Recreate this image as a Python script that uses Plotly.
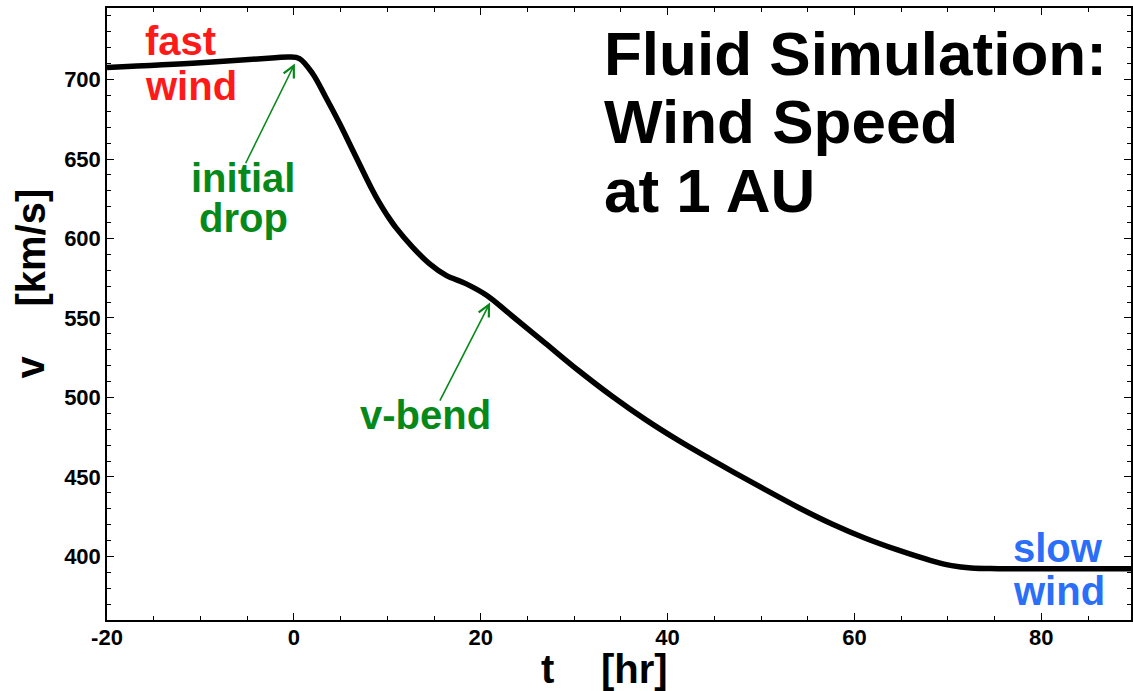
import plotly.graph_objects as go

# ---- data ----
t_hr = [-20, -10, -2, -0.5, 0.6, 2.0, 3.4, 4.9, 6.3, 7.7, 8.4, 9.1, 10.0, 10.9,
        12.7, 14.5, 16.3, 18.4, 20.7, 23.0, 26.9, 30.5, 34.1, 37.6, 41.2, 44.5,
        47.0, 50.4, 54.0, 57.6, 61.1, 64.7, 68.2, 70.4, 72.5, 75.4, 90]
v_kms = [707.5, 710.5, 713.7, 714.2, 713.2, 703.8, 689.0, 672.3, 655.5, 638.7,
         630.5, 623.0, 614.5, 607.0, 594.6, 584.2, 576.8, 571.6, 564.0, 553.0,
         534.2, 516.8, 500.6, 486.2, 472.8, 461.5, 453.2, 442.2, 430.8, 420.4,
         411.6, 403.9, 397.4, 394.2, 392.7, 392.3, 392.3]

x_ticks = [-20, 0, 20, 40, 60, 80]
x_tick_text = ["-20", "0", "20", "40", "60", "80"]
y_ticks = [400, 450, 500, 550, 600, 650, 700]

title_lines = ["Fluid Simulation:", "Wind Speed", "at 1 AU"]

FONT = "Liberation Sans, Arial, Helvetica, sans-serif"
RED = "#ff1a1a"
GREEN = "#07891a"
BLUE = "#2b6ef8"

fig = go.Figure()
fig.add_trace(go.Scatter(
    x=t_hr, y=v_kms, mode="lines",
    line=dict(color="black", width=5.5, shape="spline", smoothing=1.0),
    hoverinfo="skip", showlegend=False))

axis_common = dict(
    showline=True, linecolor="black", linewidth=1.5, mirror="ticks",
    ticks="inside", ticklen=7, tickwidth=1, tickcolor="black",
    showgrid=False, zeroline=False,
    tickfont=dict(family=FONT, size=22, color="black", weight="bold"),
)

fig.update_xaxes(range=[-20, 89.6], tickvals=x_ticks, ticktext=x_tick_text,
                 ticklabelstandoff=-3,
                 minor=dict(dtick=5, ticks="inside", ticklen=4, tickwidth=1,
                            tickcolor="black", showgrid=False),
                 **axis_common)
fig.update_yaxes(range=[360, 745], tickvals=y_ticks,
                 minor=dict(dtick=10, ticks="inside", ticklen=4, tickwidth=1,
                            tickcolor="black", showgrid=False),
                 **axis_common)

def txt(text, x, y, color, size=40, xanchor="center", xref="x", yref="y", angle=0):
    fig.add_annotation(text=text, x=x, y=y, xref=xref, yref=yref,
                       xanchor=xanchor, yanchor="middle", showarrow=False,
                       textangle=angle,
                       font=dict(family=FONT, size=size, color=color, weight="bold"))

# title block
for line, yv in zip(title_lines, [716.2, 673.8, 630.0]):
    txt(line, 32.96, yv, "black", size=62, xanchor="left")

# labels
txt("fast", -16.19, 724.1, RED, xanchor="left")
txt("wind", -16.19, 695.8, RED, xanchor="left")
txt("initial", -5.40, 638.1, GREEN)
txt("drop", -5.40, 612.9, GREEN)
txt("v-bend", 14.05, 489.2, GREEN)
txt("slow", 76.76, 405.2, BLUE, xanchor="left")
txt("wind", 76.76, 377.97, BLUE, xanchor="left")

# arrows
for (hx, hy, tx, ty) in [(0.11, 710.1, -5.24, 646.4), (21.0, 559.7, 15.55, 497.0)]:
    fig.add_annotation(x=hx, y=hy, ax=tx, ay=ty, xref="x", yref="y",
                       axref="x", ayref="y", text="", showarrow=True,
                       arrowhead=5, arrowsize=1.4, arrowwidth=1.6,
                       arrowcolor=GREEN, standoff=0, startstandoff=0)

# axis titles
txt("t", 0.4301, -0.0795, "black", xref="paper", yref="paper")
txt("[hr]", 0.5151, -0.0795, "black", xref="paper", yref="paper")
txt("v", -0.0756, 0.4134, "black", xref="paper", yref="paper", angle=-90)
txt("[km/s]", -0.0741, 0.6087, "black", xref="paper", yref="paper", angle=-90)

fig.update_layout(
    width=1133, height=691, autosize=False,
    margin=dict(l=107, r=0, t=8, b=71),
    paper_bgcolor="white", plot_bgcolor="white",
    showlegend=False,
)

fig.write_html(
    "out.html",
    config={"displayModeBar": False},
    post_script="document.body.style.margin='0';document.body.style.overflow='hidden';",
)
